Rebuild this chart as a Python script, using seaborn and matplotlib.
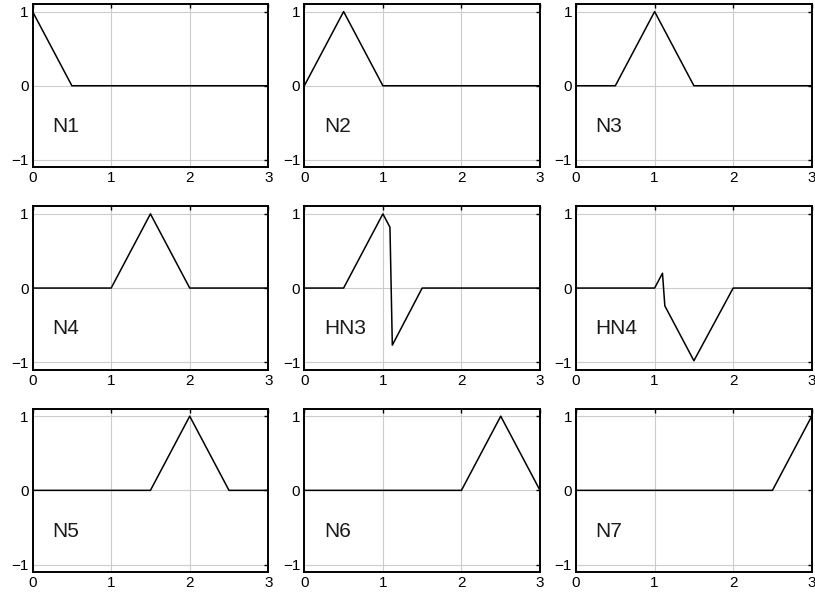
import matplotlib
matplotlib.use("Agg")
import matplotlib.pyplot as plt
import seaborn as sns

# shape functions, breakpoints
names = ["N1", "N2", "N3", "N4", "HN3", "HN4", "N5", "N6", "N7"]
x_n1 = [0, 0.5, 3]
y_n1 = [1, 0, 0]
x_n2 = [0, 0.5, 1, 3]
y_n2 = [0, 1, 0, 0]
x_n3 = [0, 0.5, 1, 1.5, 3]
y_n3 = [0, 0, 1, 0, 0]
x_n4 = [0, 1, 1.5, 2, 3]
y_n4 = [0, 0, 1, 0, 0]
x_hn3 = [0, 0.5, 1, 1.09, 1.12, 1.5, 3]
y_hn3 = [0, 0, 1, 0.82, -0.77, 0, 0]
x_hn4 = [0, 1, 1.1, 1.13, 1.5, 2, 3]
y_hn4 = [0, 0, 0.2, -0.24, -0.98, 0, 0]
x_n5 = [0, 1.5, 2, 2.5, 3]
y_n5 = [0, 0, 1, 0, 0]
x_n6 = [0, 2, 2.5, 3]
y_n6 = [0, 0, 1, 0]
x_n7 = [0, 2.5, 3]
y_n7 = [0, 0, 1]

xs = [x_n1, x_n2, x_n3, x_n4, x_hn3, x_hn4, x_n5, x_n6, x_n7]
ys = [y_n1, y_n2, y_n3, y_n4, y_hn3, y_hn4, y_n5, y_n6, y_n7]

sns.set_style("white")
plt.rcParams["font.family"] = ["Liberation Sans", "DejaVu Sans"]

fig, axes = plt.subplots(3, 3, figsize=(8.15, 5.97), dpi=100)
plt.subplots_adjust(left=0.040, right=0.996, top=0.993, bottom=0.042,
                    wspace=0.153, hspace=0.24)

for ax, name, x, y in zip(axes.flat, names, xs, ys):
    sns.lineplot(x=x, y=y, ax=ax, color="black", lw=1.1, estimator=None, sort=False)
    ax.set_xlim(0, 3)
    ax.set_ylim(-1.1, 1.1)
    ax.set_xticks([0, 1, 2, 3])
    ax.set_yticks([-1, 0, 1])
    ax.grid(True, color="#cccccc", lw=0.8)
    ax.tick_params(direction="in", length=3, width=1, labelsize=11,
                   top=True, right=True, pad=3, colors="black")
    for s in ax.spines.values():
        s.set_color("black")
        s.set_linewidth(1.4)
    ax.text(0.25, -0.55, name, fontsize=15, ha="left", va="center", color="#1a1a1a")

fig.savefig("out.png", dpi=100)
